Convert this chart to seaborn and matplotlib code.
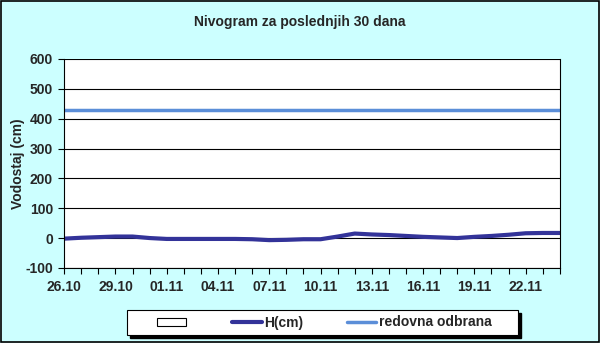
import numpy as np
import pandas as pd
import matplotlib
matplotlib.use("Agg")
import matplotlib.pyplot as plt
import seaborn as sns
from matplotlib.patches import Patch, Rectangle
from matplotlib.lines import Line2D

dates = pd.date_range("2024-10-26", "2024-11-24", freq="D")
h_cm = [-2, 1, 3, 5, 5, 0, -3, -3, -3, -3, -3, -4, -7, -6, -4,
        -4, 5, 15, 12, 10, 7, 4, 2, 0, 4, 7, 11, 16, 17, 17]
redovna = [430] * 30
title = "Nivogram za poslednjih 30 dana"
ylabel = "Vodostaj (cm)"
legend_labels = ["", "H(cm)", "redovna odbrana"]

df = pd.DataFrame({"x": np.arange(len(dates)), "H(cm)": h_cm, "redovna odbrana": redovna})

sns.set_style("white")
plt.rcParams["font.family"] = ["Liberation Sans", "DejaVu Sans"]

FS = 10
fig = plt.figure(figsize=(6, 3.43), dpi=100, facecolor="#CCFFFF")
ax = fig.add_axes([0.107, 0.219, 0.826, 0.609])
ax.set_facecolor("white")

sns.lineplot(data=df, x="x", y="redovna odbrana", ax=ax, color="#5B8ED8", linewidth=2.5)
sns.lineplot(data=df, x="x", y="H(cm)", ax=ax, color="#333399", linewidth=3)

ax.set_xlim(0, len(dates) - 1)
ax.set_ylim(-100, 600)
ax.set_yticks(range(-100, 601, 100))
ax.set_yticklabels([str(v) for v in range(-100, 601, 100)], fontsize=FS, fontweight="bold")
ax.yaxis.grid(True, color="black", linewidth=0.8)
ax.set_axisbelow(True)
ax.set_xticks(np.arange(0, len(dates), 3))
ax.set_xticklabels([d.strftime("%d.%m") for d in dates[::3]], fontsize=FS, fontweight="bold")
ax.set_xticks(np.arange(len(dates)), minor=True)
ax.tick_params(axis="x", which="both", direction="out", length=4, width=0.8, bottom=True, color="black", pad=5)
ax.tick_params(axis="y", direction="out", length=4, width=0.8, left=True, color="black", pad=4)
ax.set_xlabel("")
ax.set_ylabel(ylabel, fontsize=FS, fontweight="bold")
ax.yaxis.set_label_coords(-0.079, 0.5)
for s in ax.spines.values():
    s.set_color("black")
    s.set_linewidth(0.8)
ax.spines["top"].set_visible(False)

fig.text(0.5, 0.935, title, ha="center", va="center", fontsize=FS, fontweight="bold")

# legend box with shadow
W, H = 600, 343
fig.patches.append(Rectangle((130 / W, 1 - 338 / H), 391 / W, 25 / H, transform=fig.transFigure,
                             facecolor="black", edgecolor="black", zorder=1))
fig.patches.append(Rectangle((127 / W, 1 - 335 / H), 391 / W, 25 / H, transform=fig.transFigure,
                             facecolor="white", edgecolor="black", linewidth=0.8, zorder=2))

handles = [Patch(facecolor="white", edgecolor="black", linewidth=0.8),
           Line2D([], [], color="#333399", linewidth=3),
           Line2D([], [], color="#5B8ED8", linewidth=2.5)]
leg = fig.legend(handles, legend_labels, ncol=3, loc="center",
                 bbox_to_anchor=(324 / W, 1 - 322.5 / H), frameon=False,
                 prop={"size": FS, "weight": "bold"}, handlelength=2.1, handleheight=0.5,
                 handletextpad=0.15, columnspacing=3.2, borderpad=0)
leg.set_zorder(3)

fig.patches.append(Rectangle((0.002, 0.003), 0.996, 0.994, transform=fig.transFigure,
                             fill=False, edgecolor="black", linewidth=1.2))
fig.savefig("out.png", dpi=100, facecolor=fig.get_facecolor())
